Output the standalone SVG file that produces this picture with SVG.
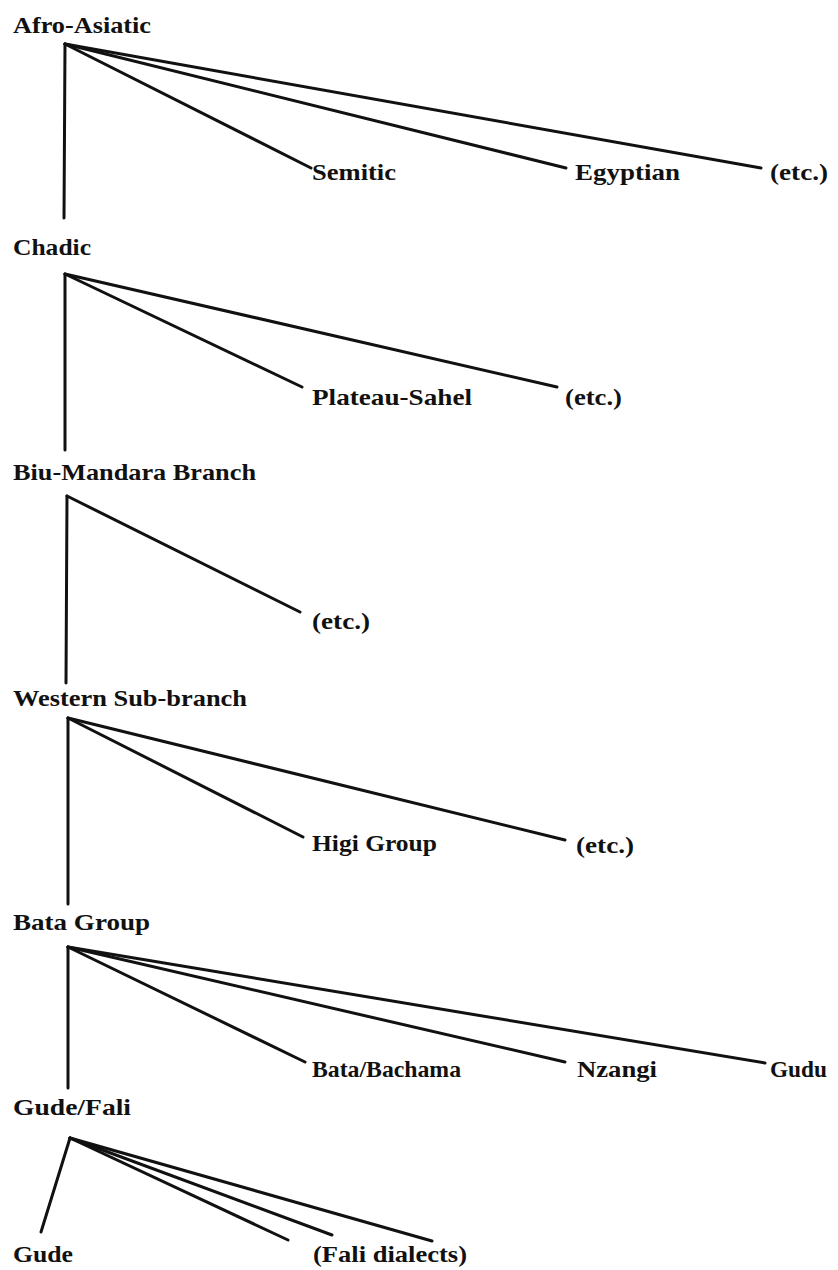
<svg xmlns="http://www.w3.org/2000/svg" width="838" height="1270" viewBox="0 0 838 1270">
<style>
  text { font-family: "Liberation Serif", "DejaVu Serif", serif; font-weight: bold; font-size: 24px; fill: #111; }
  .c line { stroke: #111; stroke-width: 3; stroke-linecap: round; }
</style>
<rect width="838" height="1270" fill="#ffffff"/>
<g class="c" id="connectors">
  <line x1="65" y1="44" x2="64" y2="218"/>
  <line x1="65" y1="44" x2="311" y2="168"/>
  <line x1="65" y1="44" x2="566" y2="168"/>
  <line x1="65" y1="44" x2="761" y2="168"/>

  <line x1="65" y1="274" x2="65" y2="450"/>
  <line x1="65" y1="274" x2="302" y2="387"/>
  <line x1="65" y1="274" x2="557" y2="387"/>

  <line x1="67" y1="496" x2="66" y2="683"/>
  <line x1="67" y1="496" x2="300" y2="612"/>

  <line x1="68" y1="718" x2="68" y2="904"/>
  <line x1="68" y1="718" x2="303" y2="837"/>
  <line x1="68" y1="718" x2="565" y2="840"/>

  <line x1="68" y1="947" x2="68" y2="1088"/>
  <line x1="68" y1="947" x2="305" y2="1062"/>
  <line x1="68" y1="947" x2="565" y2="1062"/>
  <line x1="68" y1="947" x2="765" y2="1063"/>

  <line x1="70" y1="1138" x2="41" y2="1232"/>
  <line x1="70" y1="1138" x2="288" y2="1240"/>
  <line x1="70" y1="1138" x2="332" y2="1235"/>
  <line x1="70" y1="1138" x2="432" y2="1241"/>
</g>
<g id="n-afroasiatic"><text x="13" y="33" textLength="138" lengthAdjust="spacingAndGlyphs">Afro-Asiatic</text></g>
<g id="n-semitic"><text x="312" y="180" textLength="84" lengthAdjust="spacingAndGlyphs">Semitic</text></g>
<g id="n-egyptian"><text x="575" y="180" textLength="105" lengthAdjust="spacingAndGlyphs">Egyptian</text></g>
<g id="n-etc1"><text x="770" y="180" textLength="58" lengthAdjust="spacingAndGlyphs">(etc.)</text></g>

<g id="n-chadic"><text x="13" y="255" textLength="78" lengthAdjust="spacingAndGlyphs">Chadic</text></g>
<g id="n-plateausahel"><text x="312" y="405" textLength="160" lengthAdjust="spacingAndGlyphs">Plateau-Sahel</text></g>
<g id="n-etc2"><text x="565" y="405" textLength="57" lengthAdjust="spacingAndGlyphs">(etc.)</text></g>

<g id="n-biumandara"><text x="13" y="480" textLength="243" lengthAdjust="spacingAndGlyphs">Biu-Mandara Branch</text></g>
<g id="n-etc3"><text x="312" y="629" textLength="58" lengthAdjust="spacingAndGlyphs">(etc.)</text></g>

<g id="n-western"><text x="13" y="706" textLength="234" lengthAdjust="spacingAndGlyphs">Western Sub-branch</text></g>
<g id="n-higi"><text x="312" y="851" textLength="125" lengthAdjust="spacingAndGlyphs">Higi Group</text></g>
<g id="n-etc4"><text x="576" y="853" textLength="58" lengthAdjust="spacingAndGlyphs">(etc.)</text></g>

<g id="n-bata"><text x="13" y="930" textLength="137" lengthAdjust="spacingAndGlyphs">Bata Group</text></g>
<g id="n-batabachama"><text x="312" y="1077" textLength="149" lengthAdjust="spacingAndGlyphs">Bata/Bachama</text></g>
<g id="n-nzangi"><text x="577" y="1077" textLength="80" lengthAdjust="spacingAndGlyphs">Nzangi</text></g>
<g id="n-gudu"><text x="770" y="1077" textLength="57" lengthAdjust="spacingAndGlyphs">Gudu</text></g>

<g id="n-gudefali"><text x="13" y="1115" textLength="118" lengthAdjust="spacingAndGlyphs">Gude/Fali</text></g>
<g id="n-gude"><text x="13" y="1262" textLength="60" lengthAdjust="spacingAndGlyphs">Gude</text></g>
<g id="n-falidialects"><text x="313" y="1262" textLength="154" lengthAdjust="spacingAndGlyphs">(Fali dialects)</text></g>
</svg>
